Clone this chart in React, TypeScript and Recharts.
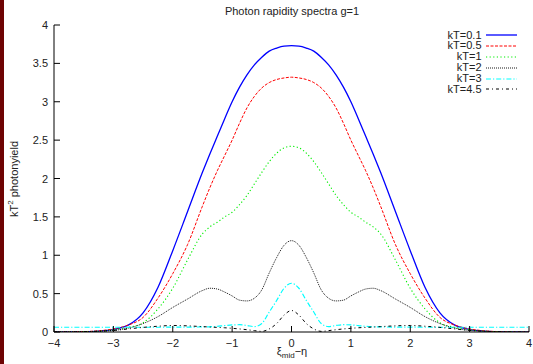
import { LineChart, Line, XAxis, YAxis } from 'recharts';

// rapidity grid (finer near the centre, where the structure is)
const xs = [
  -4, -3.75, -3.5, -3.25, -3, -2.75, -2.5, -2.25, -2, -1.75, -1.5,
  -1.375, -1.25, -1.125, -1, -0.875, -0.75, -0.625, -0.5, -0.375, -0.25, -0.125,
  0,
  0.125, 0.25, 0.375, 0.5, 0.625, 0.75, 0.875, 1, 1.125, 1.25, 1.375,
  1.5, 1.75, 2, 2.25, 2.5, 2.75, 3, 3.25, 3.5, 3.75, 4,
];

const kT01 = [
  0, 0.001, 0.004, 0.012, 0.035, 0.09, 0.25, 0.58, 1.06, 1.57, 2.08,
  2.32, 2.55, 2.78, 3.0, 3.19, 3.35, 3.48, 3.58, 3.66, 3.7, 3.725,
  3.73,
  3.725, 3.7, 3.66, 3.58, 3.48, 3.35, 3.19, 3.0, 2.78, 2.55, 2.32,
  2.08, 1.57, 1.06, 0.58, 0.25, 0.09, 0.035, 0.012, 0.004, 0.001, 0,
];
const kT05 = [
  0, 0.001, 0.005, 0.015, 0.04, 0.09, 0.19, 0.44, 0.76, 1.14, 1.64,
  1.88, 2.1, 2.3, 2.5, 2.72, 2.92, 3.07, 3.18, 3.25, 3.29, 3.31,
  3.32,
  3.31, 3.29, 3.25, 3.18, 3.07, 2.92, 2.72, 2.5, 2.3, 2.1, 1.88,
  1.64, 1.14, 0.76, 0.44, 0.19, 0.09, 0.04, 0.015, 0.005, 0.001, 0,
];
const kT1 = [
  0, 0.001, 0.004, 0.01, 0.03, 0.06, 0.12, 0.3, 0.57, 0.94, 1.28,
  1.37, 1.43, 1.5, 1.56, 1.66, 1.78, 1.93, 2.08, 2.22, 2.33, 2.4,
  2.42,
  2.4, 2.33, 2.22, 2.08, 1.93, 1.78, 1.66, 1.56, 1.5, 1.43, 1.37,
  1.28, 0.94, 0.57, 0.3, 0.12, 0.06, 0.03, 0.01, 0.004, 0.001, 0,
];
const kT2 = [
  0, 0.001, 0.003, 0.01, 0.02, 0.05, 0.11, 0.2, 0.32, 0.43, 0.54,
  0.57, 0.56, 0.52, 0.47, 0.415, 0.405, 0.44, 0.55, 0.77, 0.97, 1.13,
  1.19,
  1.13, 0.97, 0.77, 0.55, 0.44, 0.405, 0.415, 0.47, 0.52, 0.56, 0.57,
  0.54, 0.43, 0.32, 0.2, 0.11, 0.05, 0.02, 0.01, 0.003, 0.001, 0,
];
const kT3 = [
  0.062, 0.062, 0.062, 0.062, 0.062, 0.062, 0.062, 0.062, 0.063, 0.064, 0.066,
  0.068, 0.074, 0.084, 0.092, 0.095, 0.085, 0.07, 0.11, 0.26, 0.41, 0.57,
  0.635,
  0.57, 0.41, 0.26, 0.11, 0.07, 0.085, 0.095, 0.092, 0.084, 0.074, 0.068,
  0.066, 0.064, 0.063, 0.062, 0.062, 0.062, 0.062, 0.062, 0.062, 0.062, 0.062,
];
const kT45 = [
  0, 0, 0.005, 0.01, 0.02, 0.04, 0.06, 0.075, 0.085, 0.08, 0.07,
  0.065, 0.06, 0.055, 0.048, 0.04, 0.03, 0.018, 0.008, 0.04, 0.11, 0.22,
  0.28,
  0.22, 0.11, 0.04, 0.008, 0.018, 0.03, 0.04, 0.048, 0.055, 0.06, 0.065,
  0.07, 0.08, 0.085, 0.075, 0.06, 0.04, 0.02, 0.01, 0.005, 0, 0,
];

const xTicks = [-4, -3, -2, -1, 0, 1, 2, 3, 4];
const yTicks = [0, 0.5, 1, 1.5, 2, 2.5, 3, 3.5, 4];

const series = [
  { key: 'k01', name: 'kT=0.1', color: '#0000ff', dash: undefined as string | undefined, width: 1.3 },
  { key: 'k05', name: 'kT=0.5', color: '#ff0000', dash: '3 1.5', width: 1 },
  { key: 'k1', name: 'kT=1', color: '#00ee00', dash: '1.2 2.4', width: 1.1 },
  { key: 'k2', name: 'kT=2', color: '#000000', dash: '1 1', width: 0.9 },
  { key: 'k3', name: 'kT=3', color: '#00ffff', dash: '5 2 1.2 2', width: 1.2 },
  { key: 'k45', name: 'kT=4.5', color: '#000000', dash: '3 3 1 3', width: 1 },
];

const data = xs.map((x, i) => ({
  x, k01: kT01[i], k05: kT05[i], k1: kT1[i], k2: kT2[i], k3: kT3[i], k45: kT45[i],
}));

const FONT = '"Liberation Sans", Arial, Helvetica, sans-serif';
const TICK = 6;
const fmt = (v: number) => (v < 0 ? `\u2212${-v}` : `${v}`);

function BottomTick({ x, y, payload }: any) {
  return (
    <g>
      <line x1={x} x2={x} y1={y} y2={y - TICK} stroke="#000" />
      <text x={x} y={y + 14.5} textAnchor="middle" fontSize={11} fill="#222" fontFamily={FONT}>
        {fmt(payload.value)}
      </text>
    </g>
  );
}
const TopTick = ({ x, y }: any) => <line x1={x} x2={x} y1={y} y2={y + TICK} stroke="#000" />;
function LeftTick({ x, y, payload }: any) {
  return (
    <g>
      <line x1={x} x2={x + TICK} y1={y} y2={y} stroke="#000" />
      <text x={x - 6} y={y + 4} textAnchor="end" fontSize={11} fill="#222" fontFamily={FONT}>
        {payload.value}
      </text>
    </g>
  );
}
const RightTick = ({ x, y }: any) => <line x1={x} x2={x - TICK} y1={y} y2={y} stroke="#000" />;

export default function App() {
  return (
    <div style={{ position: 'relative', width: 533, height: 364, background: '#fff', fontFamily: FONT, color: '#222' }}>
      <style>{'body{margin:0}'}</style>
      <div style={{ position: 'absolute', left: 0, top: 0, width: 4, height: 364, background: '#6e0303' }} />
      <LineChart width={533} height={364} data={data} margin={{ top: 25, right: 4, bottom: 0, left: 0 }}>
        <XAxis dataKey="x" type="number" domain={[-4, 4]} ticks={xTicks} allowDataOverflow height={32}
          tickSize={0} tickMargin={0} tick={<BottomTick />} axisLine={{ stroke: '#000' }} />
        <XAxis xAxisId="top" orientation="top" dataKey="x" type="number" domain={[-4, 4]} ticks={xTicks}
          height={0} tickSize={0} tickMargin={0} tick={<TopTick />} axisLine={{ stroke: '#000' }} />
        <YAxis type="number" domain={[0, 4]} ticks={yTicks} allowDataOverflow width={54}
          tickSize={0} tickMargin={0} tick={<LeftTick />} axisLine={{ stroke: '#000' }} />
        <YAxis yAxisId="right" orientation="right" type="number" domain={[0, 4]} ticks={yTicks} width={0}
          tickSize={0} tickMargin={0} tick={<RightTick />} axisLine={{ stroke: '#000' }} />
        {series.map((s) => (
          <Line key={s.key} type="monotone" dataKey={s.key} stroke={s.color} strokeWidth={s.width}
            strokeDasharray={s.dash} dot={false} activeDot={false} isAnimationActive={false} />
        ))}
      </LineChart>

      <div style={{ position: 'absolute', left: 292, top: 5, transform: 'translateX(-50%)', fontSize: 11, whiteSpace: 'nowrap' }}>
        Photon rapidity spectra g=1
      </div>
      <div style={{ position: 'absolute', left: 13, top: 179, transform: 'translate(-50%, -50%) rotate(-90deg)', fontSize: 11, whiteSpace: 'nowrap' }}>
        kT<sup style={{ fontSize: 8 }}>2</sup> photonyield
      </div>
      <div style={{ position: 'absolute', left: 292, top: 345, transform: 'translateX(-50%)', fontSize: 11, whiteSpace: 'nowrap' }}>
        ξ<sub style={{ fontSize: 8 }}>mid</sub>−η
      </div>

      <div style={{ position: 'absolute', right: 16, top: 29.5, fontSize: 11 }}>
        {series.map((s) => (
          <div key={s.key} style={{ display: 'flex', alignItems: 'center', justifyContent: 'flex-end', height: 10.9, lineHeight: '10.9px' }}>
            <span>{s.name}</span>
            <svg width={31} height={4} style={{ marginLeft: 4.5 }}>
              <line x1={0} x2={31} y1={2} y2={2} stroke={s.color} strokeWidth={s.width} strokeDasharray={s.dash} />
            </svg>
          </div>
        ))}
      </div>
    </div>
  );
}
